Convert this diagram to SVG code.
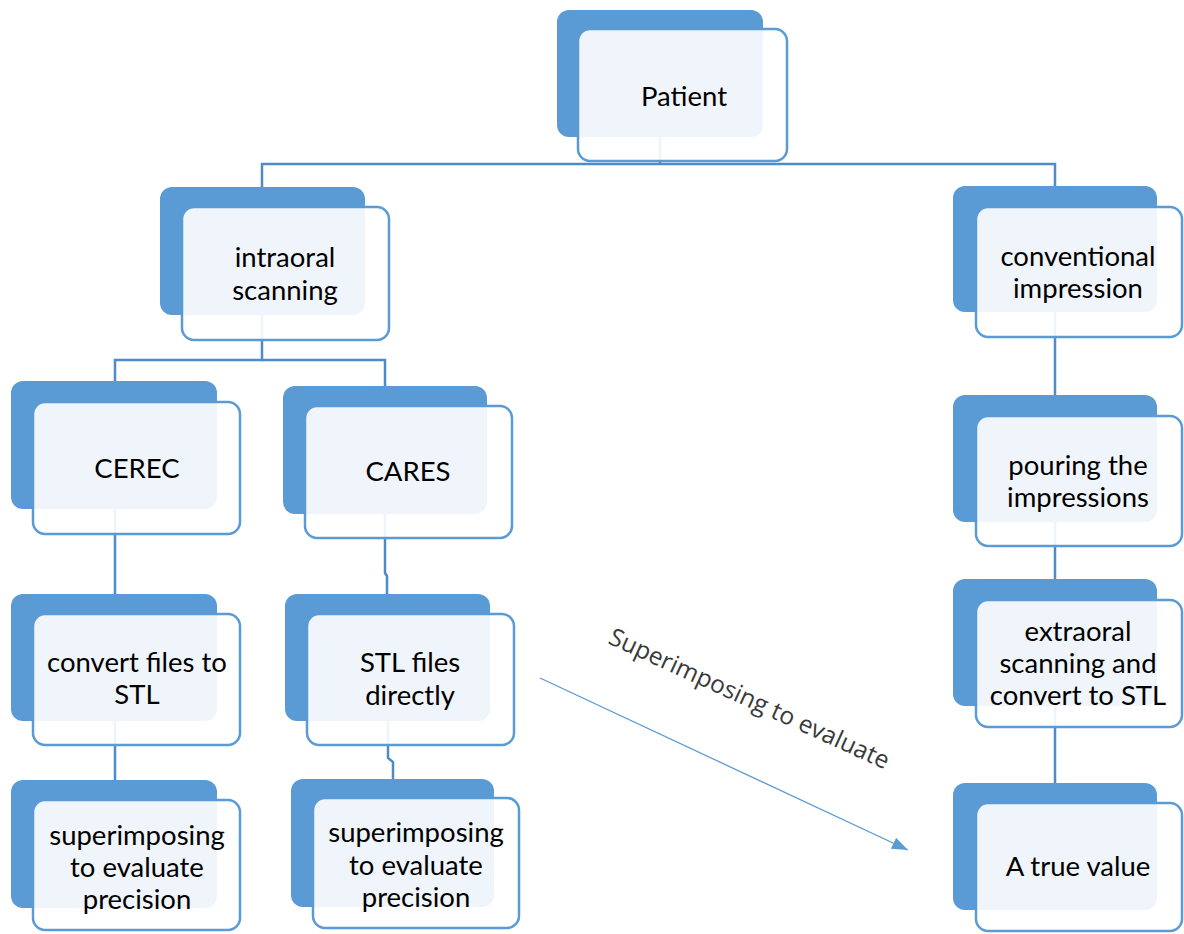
<svg xmlns="http://www.w3.org/2000/svg" width="1184" height="934" viewBox="0 0 1184 934">
<defs>
<style>
.bk{fill:#5B9BD5;}
.fr{fill:#FFFFFF;fill-opacity:0.9;stroke:#5B9BD5;stroke-width:2.5;}
.t{font-family:Lato,"Liberation Sans",sans-serif;font-size:27.5px;fill:#000;text-anchor:middle;}
.c{fill:none;stroke:#4F8BC9;stroke-width:2.5;}
.lbl{font-family:"Open Sans","Liberation Sans",sans-serif;font-weight:400;font-size:24.5px;fill:#3a3a3a;}
</style>
<marker id="ah2" viewBox="0 0 16 12" refX="16" refY="6" markerWidth="16" markerHeight="12" orient="auto" markerUnits="userSpaceOnUse">
<path d="M0 0 L16 6 L0 12 Z" fill="#5B9BD5"/>
</marker>
</defs>
<rect width="1184" height="934" fill="#FFFFFF"/>
<g id="connectors">
<path class="c" d="M660 137 V164"/>
<path class="c" d="M262 187 V164 H1055 V186"/>
<path class="c" d="M262 315 V360 H115 V381"/>
<path class="c" d="M262 360 H385 V386"/>
<path class="c" d="M115 509 V594"/>
<path class="c" d="M115 721 V780"/>
<path class="c" d="M385 514 V573 L387 576 V594"/>
<path class="c" d="M388 721 V758 L393 762 V779"/>
<path class="c" d="M1055 312 V395"/>
<path class="c" d="M1055 522 V579"/>
<path class="c" d="M1055 706 V783"/>
<line x1="540" y1="678" x2="908" y2="850" stroke="#5B9BD5" stroke-width="1.3" marker-end="url(#ah2)"/>
<text class="lbl" x="607" y="643" transform="rotate(24.5 607 643)">Superimposing to evaluate</text>
</g>
<g id="n-patient">
<rect class="bk" x="557" y="10" width="206" height="127" rx="12"/>
<rect class="fr" x="578" y="29" width="209" height="132" rx="12"/>
<text class="t" x="684" y="106">Patient</text>
</g>
<g id="n-intraoral">
<rect class="bk" x="160" y="187" width="205" height="128" rx="12"/>
<rect class="fr" x="182" y="207" width="207" height="133" rx="12"/>
<text class="t" x="285" y="267">intraoral</text>
<text class="t" x="285" y="300">scanning</text>
</g>
<g id="n-conventional">
<rect class="bk" x="953" y="186" width="204" height="126" rx="12"/>
<rect class="fr" x="976" y="207" width="206" height="130" rx="12"/>
<text class="t" x="1078" y="266">conventional</text>
<text class="t" x="1078" y="298">impression</text>
</g>
<g id="n-cerec">
<rect class="bk" x="11" y="381" width="206" height="128" rx="12"/>
<rect class="fr" x="33" y="402" width="207" height="132" rx="12"/>
<text class="t" x="137" y="478">CEREC</text>
</g>
<g id="n-cares">
<rect class="bk" x="283" y="386" width="204" height="128" rx="12"/>
<rect class="fr" x="305" y="406" width="207" height="132" rx="12"/>
<text class="t" x="408" y="481">CARES</text>
</g>
<g id="n-pouring">
<rect class="bk" x="953" y="395" width="204" height="127" rx="12"/>
<rect class="fr" x="976" y="416" width="206" height="130" rx="12"/>
<text class="t" x="1078" y="475">pouring the</text>
<text class="t" x="1078" y="507">impressions</text>
</g>
<g id="n-convert">
<rect class="bk" x="11" y="594" width="206" height="127" rx="12"/>
<rect class="fr" x="33" y="614" width="207" height="131" rx="12"/>
<text class="t" x="137" y="672">convert files to</text>
<text class="t" x="137" y="704">STL</text>
</g>
<g id="n-stl">
<rect class="bk" x="285" y="594" width="205" height="127" rx="12"/>
<rect class="fr" x="307" y="614" width="207" height="131" rx="12"/>
<text class="t" x="410" y="672">STL files</text>
<text class="t" x="410" y="705">directly</text>
</g>
<g id="n-extraoral">
<rect class="bk" x="953" y="579" width="204" height="127" rx="12"/>
<rect class="fr" x="976" y="600" width="206" height="127" rx="12"/>
<text class="t" x="1078" y="641">extraoral</text>
<text class="t" x="1078" y="673">scanning and</text>
<text class="t" x="1078" y="705">convert to STL</text>
</g>
<g id="n-sup1">
<rect class="bk" x="11" y="780" width="206" height="128" rx="12"/>
<rect class="fr" x="33" y="800" width="207" height="130" rx="12"/>
<text class="t" x="137" y="845">superimposing</text>
<text class="t" x="137" y="877">to evaluate</text>
<text class="t" x="137" y="909">precision</text>
</g>
<g id="n-sup2">
<rect class="bk" x="291" y="779" width="203" height="128" rx="12"/>
<rect class="fr" x="313" y="798" width="206" height="130" rx="12"/>
<text class="t" x="416" y="842">superimposing</text>
<text class="t" x="416" y="875">to evaluate</text>
<text class="t" x="416" y="907">precision</text>
</g>
<g id="n-true">
<rect class="bk" x="953" y="783" width="204" height="127" rx="12"/>
<rect class="fr" x="976" y="803" width="206" height="128" rx="12"/>
<text class="t" x="1078" y="876">A true value</text>
</g>
</svg>
